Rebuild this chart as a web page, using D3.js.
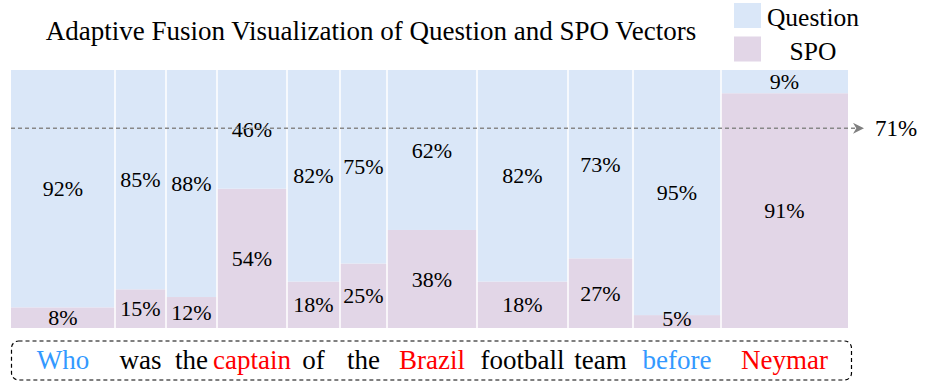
<!DOCTYPE html>
<html>
<head>
<meta charset="utf-8">
<script src="https://cdn.jsdelivr.net/npm/d3@7"></script>
<style>
  body { margin: 0; background: #fff; }
  text { font-family: "Liberation Serif", "Times New Roman", serif; }
</style>
</head>
<body>
<div id="chart"></div>
<script>
// words of the question, one column each
var words = ["Who", "was", "the", "captain", "of", "the", "Brazil", "football", "team", "before", "Neymar"];
var wordKind = ["q", "n", "n", "e", "n", "n", "e", "n", "n", "q", "e"];
// relative column widths
var colWidths = [104, 51, 51, 70, 53, 47, 90, 91, 65, 88, 127];
var questionPct = [92, 85, 88, 46, 82, 75, 62, 82, 73, 95, 9];
var spoPct = [8, 15, 12, 54, 18, 25, 38, 18, 27, 5, 91];
var avgLevel = 77.4;   // where the dashed line is drawn
var avgLabel = "71%";
var legendNames = ["Question", "SPO"];

var W = 930, H = 386;
var mLeft = 11, mRight = 848, mTop = 70, mBottom = 328;

var colors = { Question: "#dae7f8", SPO: "#e2d6e7" };
var wordColors = { q: "#3399ff", n: "#000", e: "#ff0000" };

var svg = d3.select("#chart").append("svg")
  .attr("width", W).attr("height", H);

// cumulative column edges
var edges = [0];
colWidths.forEach(function(w, i) { edges.push(edges[i] + w); });
var x = d3.scaleLinear().domain([0, edges[edges.length - 1]]).range([mLeft, mRight]);
var y = d3.scaleLinear().domain([0, 100]).range([mBottom, mTop]);

var cols = words.map(function(w, i) {
  return { word: w, kind: wordKind[i], x0: edges[i], x1: edges[i + 1], q: questionPct[i], s: spoPct[i] };
});

var g = svg.selectAll(".col").data(cols).enter().append("g").attr("class", "col");

// SPO at the bottom, Question on top
g.append("rect")
  .attr("x", function(d) { return x(d.x0); })
  .attr("width", function(d) { return x(d.x1) - x(d.x0); })
  .attr("y", function(d) { return y(d.s); })
  .attr("height", function(d) { return y(0) - y(d.s); })
  .attr("fill", colors.SPO);
g.append("rect")
  .attr("x", function(d) { return x(d.x0); })
  .attr("width", function(d) { return x(d.x1) - x(d.x0); })
  .attr("y", y(100))
  .attr("height", function(d) { return y(d.s) - y(100); })
  .attr("fill", colors.Question);

// white separators
svg.selectAll(".sep").data(edges.slice(1, -1)).enter().append("line")
  .attr("x1", function(d) { return x(d); }).attr("x2", function(d) { return x(d); })
  .attr("y1", mTop).attr("y2", mBottom)
  .attr("stroke", "#fff").attr("stroke-width", 1.5);

// dashed average line with arrow
svg.append("defs").append("marker")
  .attr("id", "arr").attr("viewBox", "0 0 10 10")
  .attr("refX", 10).attr("refY", 5)
  .attr("markerWidth", 11).attr("markerHeight", 11)
  .attr("markerUnits", "userSpaceOnUse")
  .attr("orient", "auto")
  .append("path").attr("d", "M0,0 L10,5 L0,10 L3,5 Z").attr("fill", "#808080");

svg.append("line")
  .attr("x1", mLeft).attr("x2", 864)
  .attr("y1", y(avgLevel)).attr("y2", y(avgLevel))
  .attr("stroke", "#888").attr("stroke-width", 1.5)
  .attr("stroke-dasharray", "4,3")
  .attr("marker-end", "url(#arr)");
svg.append("text")
  .attr("x", 875).attr("y", y(avgLevel)).attr("dy", "0.35em")
  .attr("font-size", 23).text(avgLabel);

// percentage labels
g.append("text")
  .attr("x", function(d) { return (x(d.x0) + x(d.x1)) / 2; })
  .attr("y", function(d) { return (y(100) + y(d.s)) / 2; })
  .attr("dy", "0.35em").attr("text-anchor", "middle")
  .attr("font-size", 22)
  .text(function(d) { return d.q + "%"; });
g.append("text")
  .attr("x", function(d) { return (x(d.x0) + x(d.x1)) / 2; })
  .attr("y", function(d) { return Math.min((y(0) + y(d.s)) / 2, mBottom - 10); })
  .attr("dy", "0.35em").attr("text-anchor", "middle")
  .attr("font-size", 22)
  .text(function(d) { return d.s + "%"; });

// question words in dashed box
svg.append("rect")
  .attr("x", 11.5).attr("y", 341).attr("width", 840).attr("height", 39)
  .attr("rx", 7).attr("fill", "none")
  .attr("stroke", "#000").attr("stroke-width", 1.2)
  .attr("stroke-dasharray", "4,3");
g.append("text")
  .attr("x", function(d) { return (x(d.x0) + x(d.x1)) / 2; })
  .attr("y", 369)
  .attr("text-anchor", "middle")
  .attr("font-size", 27)
  .attr("fill", function(d) { return wordColors[d.kind]; })
  .text(function(d) { return d.word; });

// title
svg.append("text")
  .attr("x", 371).attr("y", 40)
  .attr("text-anchor", "middle")
  .attr("font-size", 27)
  .text("Adaptive Fusion Visualization of Question and SPO Vectors");

// legend
var leg = svg.selectAll(".leg").data(legendNames).enter().append("g").attr("class", "leg")
  .attr("transform", function(d, i) { return "translate(0," + (i * 33.5) + ")"; });
leg.append("rect")
  .attr("x", 734).attr("y", 3).attr("width", 27).attr("height", 25)
  .attr("fill", function(d) { return colors[d]; });
leg.append("text")
  .attr("x", 813).attr("y", 26)
  .attr("text-anchor", "middle").attr("font-size", 25.5)
  .text(function(d) { return d; });
</script>
</body>
</html>
